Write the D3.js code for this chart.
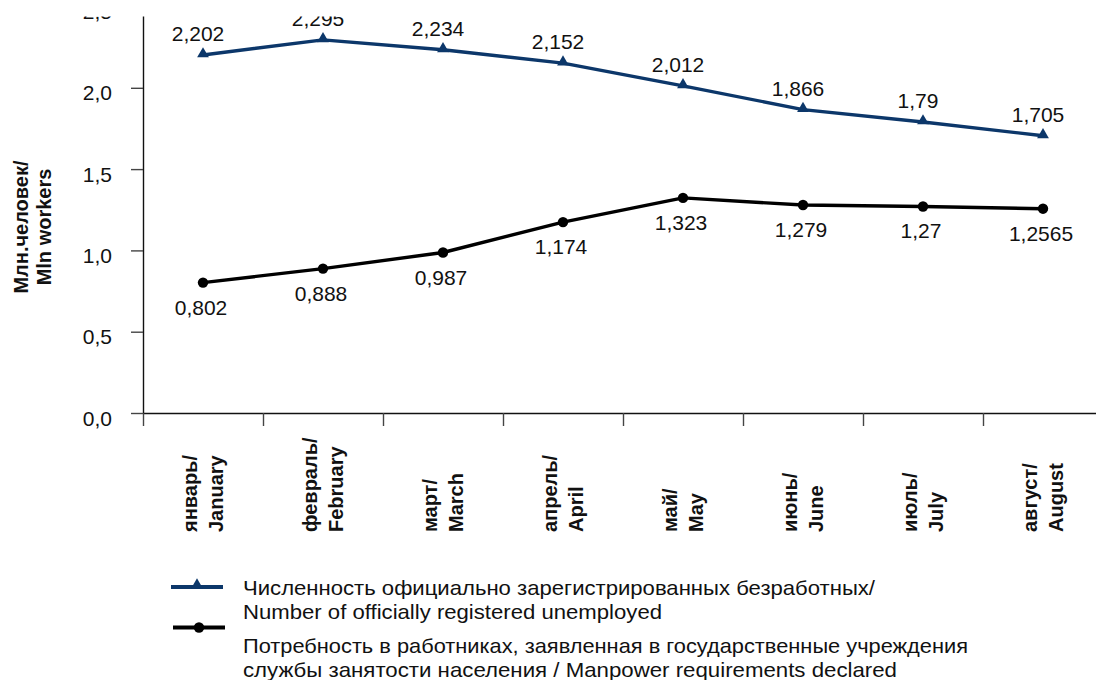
<!DOCTYPE html>
<html>
<head>
<meta charset="utf-8">
<script src="https://cdn.jsdelivr.net/npm/d3@7/dist/d3.min.js"></script>
<style>
  html, body { margin: 0; padding: 0; background: #fff; }
  svg { display: block; }
  text { font-family: "Liberation Sans", Arial, Helvetica, sans-serif; fill: #111; }
</style>
</head>
<body>
<svg id="chart" width="1096" height="680"></svg>
<script>
// Months (Russian / English)
const monthsRu = ["январь/", "февраль/", "март/", "апрель/", "май/", "июнь/", "июль/", "август/"];
const monthsEn = ["January", "February", "March", "April", "May", "June", "July", "August"];

// Million people
const unemployed = [2.202, 2.295, 2.234, 2.152, 2.012, 1.866, 1.79, 1.705];
const vacancies  = [0.802, 0.888, 0.987, 1.174, 1.323, 1.279, 1.27, 1.2565];

const yTicks = [0, 0.5, 1.0, 1.5, 2.0, 2.5];

const legendUnemployed = ["Численность официально зарегистрированных безработных/",
                          "Number of officially registered unemployed"];
const legendVacancies  = ["Потребность в работниках, заявленная в государственные учреждения",
                          "службы занятости населения / Manpower requirements declared"];

const yTitle = ["Млн.человек/", "Mln workers"];

const BLUE = "#0c376a";
const BLACK = "#000";

const svg = d3.select("#chart");

const left = 143, bandW = 120;
const x = d3.scaleBand().domain(monthsEn).range([left, left + bandW * monthsEn.length]).padding(0);
const xEdge = d3.scaleLinear().domain([0, monthsEn.length]).range([left, left + bandW * monthsEn.length]);
const y = d3.scaleLinear().domain([0, 2.5]).range([413, 6.5]);

const fmt = v => String(v).replace(".", ",");

// Y axis
const yAxis = svg.append("g")
  .attr("transform", `translate(${left},0)`)
  .call(d3.axisLeft(y).tickValues(yTicks).tickSize(12).tickSizeOuter(0).tickPadding(19)
    .tickFormat(d => d.toFixed(1).replace(".", ",")));
yAxis.select(".domain").attr("stroke", "#111").attr("stroke-width", 1.4);
yAxis.selectAll(".tick line").attr("stroke", "#444").attr("stroke-width", 1.4);
yAxis.selectAll(".tick text").attr("font-size", 21).attr("dy", "0.58em")
  .style("font-family", "'Liberation Sans', Arial, sans-serif").attr("fill", "#111");

// X axis: ticks at category boundaries
const xAxis = svg.append("g")
  .attr("transform", `translate(0,${y(0)})`)
  .call(d3.axisBottom(xEdge).tickValues(d3.range(0, monthsEn.length + 1)).tickSize(13).tickSizeOuter(0)
    .tickFormat(""));
xAxis.select(".domain").attr("stroke", "#111").attr("stroke-width", 1.4);
xAxis.selectAll(".tick line").attr("stroke", "#444").attr("stroke-width", 1.4);

// Rotated two-line category labels
const catLabels = svg.append("g");
monthsEn.forEach((m, i) => {
  const cx = x(m) + x.bandwidth() / 2;
  catLabels.append("text")
    .attr("transform", `translate(${cx - 6},532) rotate(-90)`)
    .attr("font-size", 20).attr("font-weight", "bold")
    .text(monthsRu[i]);
  catLabels.append("text")
    .attr("transform", `translate(${cx + 20},532) rotate(-90)`)
    .attr("font-size", 20).attr("font-weight", "bold")
    .text(m);
});

// Y axis title
yTitle.forEach((t, i) => {
  svg.append("text")
    .attr("transform", `translate(${28 + i * 23},227) rotate(-90)`)
    .attr("text-anchor", "middle")
    .attr("font-size", 20).attr("font-weight", "bold")
    .text(t);
});

const cx = (d, i) => x(monthsEn[i]) + x.bandwidth() / 2;
const line = d3.line().x((d, i) => cx(d, i)).y(d => y(d));

// Series: registered unemployed
svg.append("path").datum(unemployed)
  .attr("d", line).attr("fill", "none").attr("stroke", BLUE).attr("stroke-width", 3.4)
  .attr("stroke-linejoin", "round");
svg.append("g").selectAll("path").data(unemployed).join("path")
  .attr("d", d3.symbol(d3.symbolTriangle, 60))
  .attr("transform", (d, i) => `translate(${cx(d, i)},${y(d) - 1})`)
  .attr("fill", BLUE);
svg.append("g").selectAll("text").data(unemployed).join("text")
  .attr("x", (d, i) => cx(d, i) - 5).attr("y", d => y(d) - 14)
  .attr("text-anchor", "middle").attr("font-size", 21)
  .text(fmt);

// Series: manpower requirements
svg.append("path").datum(vacancies)
  .attr("d", line).attr("fill", "none").attr("stroke", BLACK).attr("stroke-width", 3.4)
  .attr("stroke-linejoin", "round");
svg.append("g").selectAll("circle").data(vacancies).join("circle")
  .attr("cx", (d, i) => cx(d, i)).attr("cy", d => y(d)).attr("r", 5.2)
  .attr("fill", BLACK);
svg.append("g").selectAll("text").data(vacancies).join("text")
  .attr("x", (d, i) => cx(d, i) - 2).attr("y", d => y(d) + 32)
  .attr("text-anchor", "middle").attr("font-size", 21)
  .text(fmt);

// Legend
const lg = svg.append("g");
lg.append("line").attr("x1", 171).attr("x2", 223).attr("y1", 587).attr("y2", 587)
  .attr("stroke", BLUE).attr("stroke-width", 4);
lg.append("path").attr("d", d3.symbol(d3.symbolTriangle, 60))
  .attr("transform", "translate(197,585)").attr("fill", BLUE);
lg.append("line").attr("x1", 173).attr("x2", 225).attr("y1", 627.5).attr("y2", 627.5)
  .attr("stroke", BLACK).attr("stroke-width", 4);
lg.append("circle").attr("cx", 199).attr("cy", 627.5).attr("r", 5.2).attr("fill", BLACK);

const legendRows = [
  { text: legendUnemployed[0], y: 595, w: 632 },
  { text: legendUnemployed[1], y: 619, w: 419 },
  { text: legendVacancies[0],  y: 653, w: 725 },
  { text: legendVacancies[1],  y: 677, w: 654 }
];
legendRows.forEach(r => {
  lg.append("text")
    .attr("x", 243).attr("y", r.y)
    .attr("font-size", 21)
    .attr("textLength", r.w).attr("lengthAdjust", "spacingAndGlyphs")
    .text(r.text);
});

// Page edge trims the top of the plot
svg.append("rect").attr("x", 0).attr("y", 0).attr("width", 1096).attr("height", 16.5).attr("fill", "#fff");
</script>
</body>
</html>
